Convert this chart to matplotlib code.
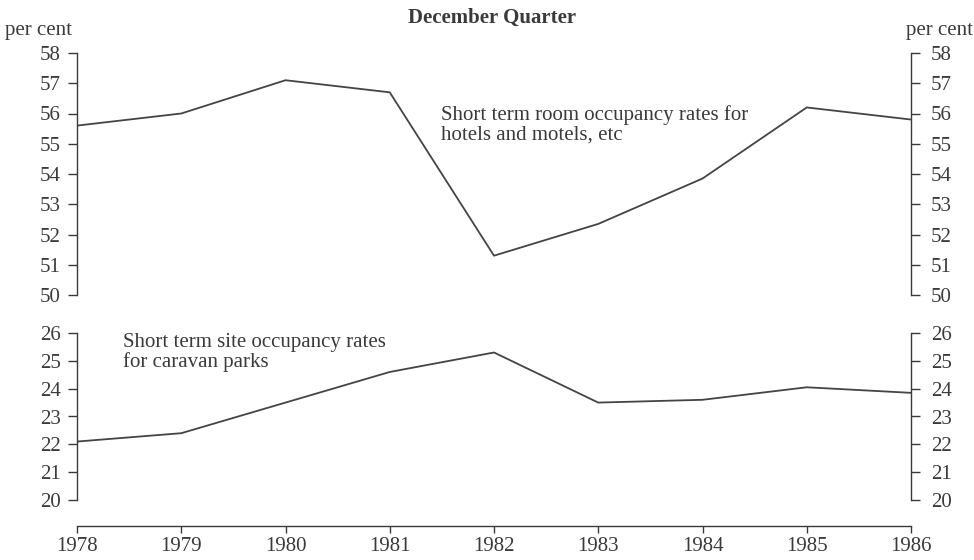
import matplotlib
matplotlib.use("Agg")
import matplotlib.pyplot as plt
import matplotlib.transforms as mtransforms
from matplotlib.ticker import FixedLocator

years = [1978, 1979, 1980, 1981, 1982, 1983, 1984, 1985, 1986]
hotel_rates = [55.6, 56.0, 57.1, 56.7, 51.3, 52.35, 53.85, 56.2, 55.8]
caravan_rates = [22.1, 22.4, 23.5, 24.6, 25.3, 23.5, 23.6, 24.05, 23.85]
top_ticks = [50, 51, 52, 53, 54, 55, 56, 57, 58]
bottom_ticks = [20, 21, 22, 23, 24, 25, 26]

plt.rcParams['font.family'] = ['Liberation Serif', 'DejaVu Serif']
ink = '#3a3a3a'
fs = 15

fig = plt.figure(figsize=(9.74, 5.6), dpi=100)
W, H = 974, 560
x0, x1 = 77, 911

def rect(top, bottom):
    return [x0 / W, 1 - bottom / H, (x1 - x0) / W, (bottom - top) / H]

ax1 = fig.add_axes(rect(53, 295))
ax2 = fig.add_axes(rect(333, 500))
axx = fig.add_axes(rect(333, 526))
axx.patch.set_alpha(0)

for ax, ys, ticks in [(ax1, hotel_rates, top_ticks), (ax2, caravan_rates, bottom_ticks)]:
    ax.plot(years, ys, color='#444444', lw=1.3)
    ax.set_xlim(years[0], years[-1])
    ax.set_ylim(ticks[0], ticks[-1])
    for s in ['top', 'bottom']:
        ax.spines[s].set_visible(False)
    for s in ['left', 'right']:
        ax.spines[s].set_color(ink)
        ax.spines[s].set_linewidth(1.0)
    ax.set_xticks([])
    ax.yaxis.set_major_locator(FixedLocator(ticks))
    ax.tick_params(axis='y', which='both', left=True, right=True, labelleft=True,
                   labelright=True, direction='out', length=6.5, width=1.0,
                   color=ink, labelcolor=ink, labelsize=fs, pad=5)
    offset = mtransforms.ScaledTranslation(4 / 100, 0, fig.dpi_scale_trans)
    for t in ax.yaxis.get_major_ticks():
        t.label2.set_transform(t.label2.get_transform() + offset)

# separate x axis
axx.set_xlim(years[0], years[-1])
axx.set_yticks([])
for s in ['top', 'left', 'right']:
    axx.spines[s].set_visible(False)
axx.spines['bottom'].set_color(ink)
axx.spines['bottom'].set_linewidth(1.0)
axx.set_xticks(years)
axx.set_xticklabels([str(y) for y in years])
axx.tick_params(axis='x', direction='out', length=5, width=1.0, color=ink,
                labelcolor=ink, labelsize=fs, pad=3)

fig.text(492 / W, 1 - 18 / H, 'December Quarter', ha='center', va='center',
         fontsize=15, fontweight='bold', color=ink)
fig.text(5 / W, 1 - 30 / H, 'per cent', ha='left', va='center', fontsize=fs, color=ink)
fig.text(973 / W, 1 - 30 / H, 'per cent', ha='right', va='center', fontsize=fs, color=ink)

ax1.text(1981.49, 55.62, 'Short term room occupancy rates for\nhotels and motels, etc',
         ha='left', va='center', fontsize=fs, color=ink, linespacing=1.0)
ax2.text(1978.44, 25.3, 'Short term site occupancy rates\nfor caravan parks',
         ha='left', va='center', fontsize=fs, color=ink, linespacing=1.0)

fig.savefig('out.png', dpi=100, facecolor='white')
